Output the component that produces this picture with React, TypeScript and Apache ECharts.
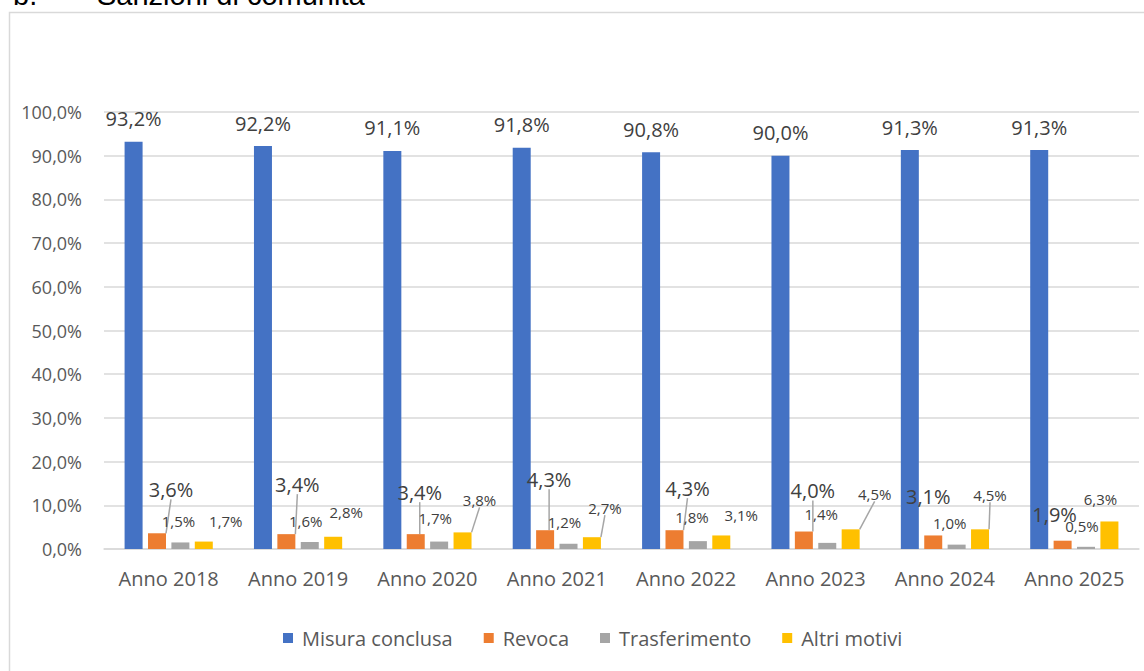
import React, { useEffect, useRef } from "react";
import * as echarts from "echarts";

const categories = ["Anno 2018", "Anno 2019", "Anno 2020", "Anno 2021", "Anno 2022", "Anno 2023", "Anno 2024", "Anno 2025"];
const misuraConclusa = [93.2, 92.2, 91.1, 91.8, 90.8, 90.0, 91.3, 91.3];
const revoca = [3.6, 3.4, 3.4, 4.3, 4.3, 4.0, 3.1, 1.9];
const trasferimento = [1.5, 1.6, 1.7, 1.2, 1.8, 1.4, 1.0, 0.5];
const altriMotivi = [1.7, 2.8, 3.8, 2.7, 3.1, 4.5, 4.5, 6.3];
const seriesNames = ["Misura conclusa", "Revoca", "Trasferimento", "Altri motivi"];

// label shifts (dx, dy) away from the default "top" position, and which labels get a leader line
const revocaShift = [[14, -29], [11, -35], [4, -27], [4, -36], [13, -27], [9, -26], [-5, -24], [-8, -11]];
const revocaLines = [true, true, true, true, true, true, false, false];
const trasfShift = [[-2, -9], [-4, -9], [-4, -11], [-4, -9], [-6, -12], [-6, -16], [-7, -9], [-4, -8]];
const trasfLines = [false, false, false, false, false, false, false, false];
const altriShift = [[22, -8], [13, -12], [17, -20], [13, -17], [20, -8], [24, -23], [10, -22], [-9, -10]];
const altriLines = [false, false, true, true, false, true, true, false];

const fmt = (v: number) => v.toFixed(1).replace(".", ",") + "%";
const FONT = "'Open Sans', sans-serif";

function withLines(values: number[], lines: boolean[]) {
  return values.map((v, i) => ({ value: v, labelLine: { show: lines[i] } }));
}

export default function App() {
  const ref = useRef<HTMLDivElement>(null);
  useEffect(() => {
    document.body.style.margin = "0";
    const chart = echarts.init(ref.current!, undefined, { renderer: "svg" });
    const lineStyle = { color: "#a6a6a6", width: 1.5 };
    const smallLabel = (shift: number[][]) => ({
      label: {
        show: true,
        position: "top",
        formatter: (p: any) => fmt(p.value),
        fontFamily: FONT,
        fontSize: 15,
        color: "#404040",
      },
      labelLine: { show: false, lineStyle },
      labelLayout: (p: any) => ({ dx: shift[p.dataIndex][0], dy: shift[p.dataIndex][1] }),
    });
    chart.setOption({
      animation: false,
      backgroundColor: "#ffffff",
      textStyle: { fontFamily: FONT },
      color: ["#4472C4", "#ED7D31", "#A5A5A5", "#FFC000"],
      graphic: [
        {
          type: "rect",
          shape: { x: 9.5, y: 12.5, width: 1160, height: 700 },
          style: { fill: "none", stroke: "#d9d9d9", lineWidth: 1.5 },
          silent: true,
        },
        {
          type: "text",
          x: 13,
          y: -5,
          style: { text: "b.", font: "29px 'Liberation Sans', Arial", fill: "#000", verticalAlign: "middle" },
        },
        {
          type: "text",
          x: 97,
          y: -5,
          style: { text: "Sanzioni di comunità", font: "29px 'Liberation Sans', Arial", fill: "#000", verticalAlign: "middle" },
        },
      ],
      grid: { left: 104, right: 5, top: 112, bottom: 122, containLabel: false },
      legend: {
        data: seriesNames,
        bottom: 18,
        left: 278,
        icon: "rect",
        itemWidth: 10,
        itemHeight: 10,
        itemGap: 31,
        textStyle: { fontFamily: FONT, fontSize: 20, color: "#595959", padding: [0, 0, 0, 4] },
      },
      xAxis: {
        type: "category",
        data: categories,
        axisLine: { lineStyle: { color: "#d9d9d9", width: 1.5 } },
        axisTick: { show: false },
        axisLabel: { fontFamily: FONT, fontSize: 20, color: "#595959", margin: 19, interval: 0 },
      },
      yAxis: {
        type: "value",
        min: 0,
        max: 100,
        interval: 10,
        axisLine: { show: false },
        axisTick: { show: false },
        splitLine: { lineStyle: { color: "#d9d9d9", width: 1.5 } },
        axisLabel: { fontFamily: FONT, fontSize: 18, color: "#595959", margin: 22, formatter: (v: number) => fmt(v) },
      },
      series: [
        {
          name: seriesNames[0],
          type: "bar",
          data: misuraConclusa,
          barWidth: 18,
          barGap: "30%",
          label: {
            show: true,
            position: "top",
            distance: 13,
            formatter: (p: any) => fmt(p.value),
            fontFamily: FONT,
            fontSize: 20,
            color: "#404040",
          },
        },
        {
          name: seriesNames[1],
          type: "bar",
          data: withLines(revoca, revocaLines),
          barWidth: 18,
          barGap: "30%",
          label: {
            show: true,
            position: "top",
            formatter: (p: any) => fmt(p.value),
            fontFamily: FONT,
            fontSize: 20,
            color: "#404040",
          },
          labelLine: { show: false, lineStyle },
          labelLayout: (p: any) => ({ dx: revocaShift[p.dataIndex][0], dy: revocaShift[p.dataIndex][1] }),
        },
        {
          name: seriesNames[2],
          type: "bar",
          data: withLines(trasferimento, trasfLines),
          barWidth: 18,
          barGap: "30%",
          ...smallLabel(trasfShift),
        },
        {
          name: seriesNames[3],
          type: "bar",
          data: withLines(altriMotivi, altriLines),
          barWidth: 18,
          barGap: "30%",
          ...smallLabel(altriShift),
        },
      ],
    });
    return () => chart.dispose();
  }, []);
  return <div ref={ref} style={{ width: 1144, height: 671 }} />;
}
